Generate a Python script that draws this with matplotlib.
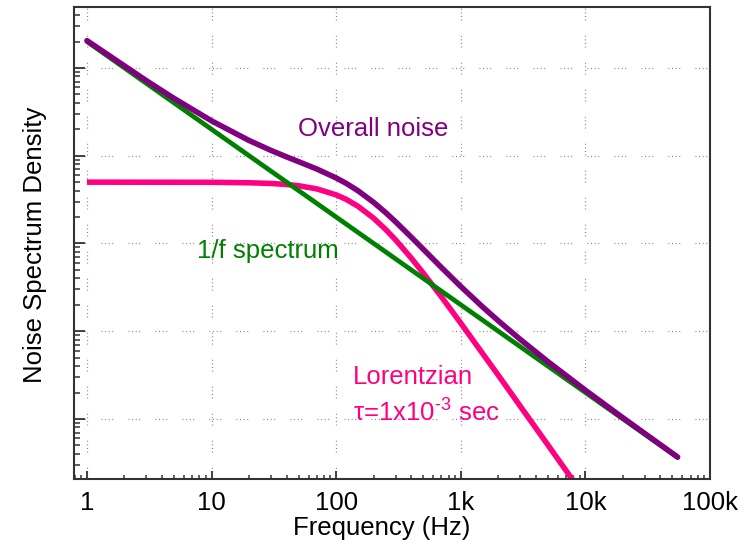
import numpy as np
import matplotlib
matplotlib.use("Agg")
import matplotlib.pyplot as plt

plt.rcParams['font.family'] = ['Liberation Sans', 'DejaVu Sans']
plt.rcParams['mathtext.fontset'] = 'custom'
plt.rcParams['mathtext.rm'] = 'Liberation Sans'
plt.rcParams['mathtext.it'] = 'Liberation Sans:italic'

# Frequencies (Hz) and spectral densities (arbitrary units)
freq_flicker = [1, 55000]
psd_flicker = [2000, 0.0364]

freq_lorentz = [1, 10, 20, 30, 40, 50, 70, 100, 120, 150, 200, 250, 300, 400,
                500, 700, 1000, 1500, 2000, 3000, 5000, 7000, 10000]
psd_lorentz = [50.0, 49.8, 49.2, 48.3, 47.0, 45.5, 41.9, 35.8, 31.9, 26.5,
               19.4, 14.42, 10.98, 6.83, 4.60, 2.46, 1.235, 0.555, 0.315,
               0.140, 0.0506, 0.0258, 0.0127]

freq_total = [1, 3, 5, 10, 20, 30, 40, 50, 70, 100, 120, 150, 200, 250, 300,
              400, 500, 700, 1000, 1500, 2000, 3000, 5000, 10000, 20000, 55000]
psd_total = [2050, 716.7, 450.0, 249.8, 149.2, 115.0, 97.0, 85.5, 70.5, 55.8,
             48.55, 39.8, 29.4, 22.42, 17.65, 11.83, 8.6, 5.32, 3.235, 1.888,
             1.315, 0.807, 0.4506, 0.2127, 0.1032, 0.0368]

xtick_vals = [1, 10, 100, 1000, 10000, 100000]
xtick_labels = ['1', '10', '100', '1k', '10k', '100k']
ygrid_vals = [1e-1, 1e0, 1e1, 1e2, 1e3]

PURPLE = '#800080'
GREEN = '#008000'
PINK = '#ff0080'
FS = 18.5

fig = plt.figure(figsize=(7.46, 5.5), dpi=100)
W, H = 746, 550
left, right, top, bottom = 74, 710, 7, 479
ax = fig.add_axes([left / W, 1 - bottom / H, (right - left) / W, (bottom - top) / H])

ax.set_xscale('log')
ax.set_yscale('log')
ax.set_xlim(10 ** -0.104, 1e5)
ax.set_ylim(10 ** -1.684, 10 ** 3.695)

# dotted decade grid
grid_dash = (0, (0.72, 2.16, 0.72, 2.16, 0.72, 2.16, 0.72, 12.24))
for xv in xtick_vals[:-1]:
    ax.axvline(xv, color='#7a7a7a', lw=0.9, ls=grid_dash, zorder=0)
for yv in ygrid_vals:
    ax.axhline(yv, color='#7a7a7a', lw=0.9, ls=grid_dash, zorder=0)

ax.plot(freq_lorentz, psd_lorentz, color=PINK, lw=4.0, solid_capstyle='butt',
        solid_joinstyle='round', zorder=2)
ax.plot(freq_flicker, psd_flicker, color=GREEN, lw=3.4, solid_capstyle='round', zorder=3)
ax.plot(freq_total, psd_total, color=PURPLE, lw=4.0, solid_capstyle='round',
        solid_joinstyle='round', zorder=4)

ax.text(49.4, 168, 'Overall noise', color=PURPLE, fontsize=FS, va='baseline', ha='left')
ax.text(7.64, 6.84, '1/f spectrum', color=GREEN, fontsize=FS, va='baseline', ha='left')
ax.text(135.6, 0.2506, 'Lorentzian', color=PINK, fontsize=FS, va='baseline', ha='left')
ax.text(137, 0.0931, r'τ=1x10$^{\text{-3}}$ sec', color=PINK, fontsize=FS,
        va='baseline', ha='left')

ax.set_xticks(xtick_vals)
ax.set_xticklabels(xtick_labels)
ax.tick_params(axis='x', which='major', direction='in', length=6, width=1.3,
               labelsize=FS, pad=9, colors='#333333', labelcolor='black')
ax.tick_params(axis='x', which='minor', direction='in', length=3, width=1.1, colors='#333333')
ax.tick_params(axis='y', which='major', direction='in', length=8, width=1.3,
               labelleft=False, colors='#333333')
ax.tick_params(axis='y', which='minor', direction='in', length=4.5, width=1.1, colors='#333333')
ax.yaxis.set_minor_locator(matplotlib.ticker.LogLocator(base=10, subs=np.arange(2, 10), numticks=20))
ax.xaxis.set_minor_locator(matplotlib.ticker.LogLocator(base=10, subs=np.arange(2, 10), numticks=20))
ax.yaxis.set_minor_formatter(matplotlib.ticker.NullFormatter())
ax.xaxis.set_minor_formatter(matplotlib.ticker.NullFormatter())

for sp in ax.spines.values():
    sp.set_color('#333333')
    sp.set_linewidth(1.5)

ax.set_xlabel('Frequency (Hz)', fontsize=FS, va='center', ha='center')
ax.xaxis.set_label_coords((382 - left) / (right - left), (bottom - 528) / (bottom - top))
ax.set_ylabel('Noise Spectrum Density', fontsize=FS, va='center', ha='center')
ax.yaxis.set_label_coords((35 - left) / (right - left), (bottom - 245) / (bottom - top))

fig.savefig('out.png', dpi=100)
